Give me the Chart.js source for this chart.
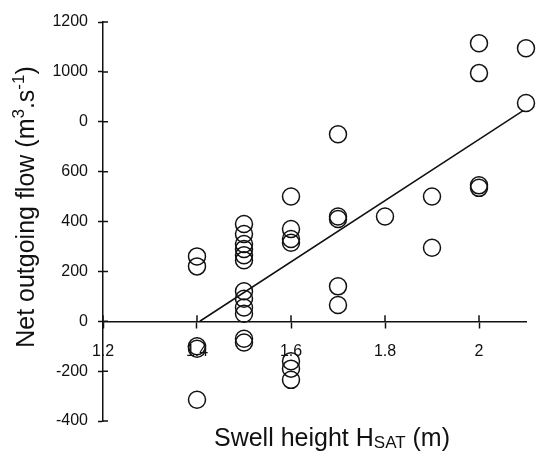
<!DOCTYPE html>
<html>
<head>
<meta charset="utf-8">
<script src="https://cdn.jsdelivr.net/npm/chart.js@4.4.1/dist/chart.umd.min.js"></script>
<style>
  html, body { margin: 0; padding: 0; background: #fff; }
  #wrap { width: 536px; height: 452px; }
</style>
</head>
<body>
<div id="wrap"><canvas id="plot_flow" width="536" height="452"></canvas></div>
<script>
// axis ticks as printed (note the 800 tick is labelled "0" in the original)
const xTicks = [1.2, 1.4, 1.6, 1.8, 2.0];
const xTickLabels = ["1.2", "1.4", "1.6", "1.8", "2"];
const yTicks = [-400, -200, 0, 200, 400, 600, 800, 1000, 1200];
const yTickLabels = ["-400", "-200", "0", "200", "400", "600", "0", "1000", "1200"];

// observations: swell height (m) vs net outgoing flow (m3/s)
const swellHeight = [
  1.4, 1.4, 1.4, 1.4, 1.4,
  1.5, 1.5, 1.5, 1.5, 1.5, 1.5, 1.5, 1.5, 1.5, 1.5, 1.5, 1.5,
  1.6, 1.6, 1.6, 1.6, 1.6, 1.6, 1.6,
  1.7, 1.7, 1.7, 1.7, 1.7,
  1.8,
  1.9, 1.9,
  2.0, 2.0, 2.0, 2.0,
  2.1, 2.1
];
const netFlow = [
  260, 220, -100, -110, -315,
  390, 350, 310, 290, 265, 245, 120, 90, 55, 30, -70, -85,
  500, 370, 330, 315, -160, -190, -235,
  750, 420, 410, 140, 65,
  420,
  500, 295,
  1115, 995, 545, 535,
  1095, 875
];

// regression line end points
const fitX = [1.406, 2.094];
const fitY = [0, 845];

const ink = "#111";
const FONT = "'Liberation Sans', Arial, Helvetica, sans-serif";

const points = swellHeight.map((x, i) => ({ x: x, y: netFlow[i] }));
const fitLine = fitX.map((x, i) => ({ x: x, y: fitY[i] }));

// inner half of the crossing tick marks + axis titles
const extras = {
  id: "extras",
  afterDraw(chart) {
    const ctx = chart.ctx;
    const xs = chart.scales.x, ys = chart.scales.y;
    const x0 = xs.getPixelForValue(1.2);
    const y0 = ys.getPixelForValue(0);
    ctx.save();
    ctx.strokeStyle = ink;
    ctx.lineWidth = 1.5;
    ctx.beginPath();
    xTicks.forEach(v => {
      const px = xs.getPixelForValue(v);
      ctx.moveTo(px, y0);
      ctx.lineTo(px, y0 - 6);
    });
    yTicks.forEach(v => {
      const py = ys.getPixelForValue(v);
      ctx.moveTo(x0, py);
      ctx.lineTo(x0 + 5, py);
    });
    ctx.stroke();

    ctx.fillStyle = ink;
    ctx.textBaseline = "alphabetic";
    ctx.textAlign = "left";

    // x title: Swell height H_SAT (m)
    const big = "25px " + FONT, small = "17px " + FONT;
    ctx.font = big;
    const wA = ctx.measureText("Swell height H").width;
    const wC = ctx.measureText(" (m)").width;
    ctx.font = small;
    const wB = ctx.measureText("SAT").width;
    let tx = 332 - (wA + wB + wC) / 2;
    const ty = 446;
    ctx.font = big;
    ctx.fillText("Swell height H", tx, ty);
    tx += wA;
    ctx.font = small;
    ctx.fillText("SAT", tx, ty + 2);
    tx += wB;
    ctx.font = big;
    ctx.fillText(" (m)", tx, ty);

    // y title: Net outgoing flow (m3.s-1)
    const parts = [
      ["Net outgoing flow (m", big, 0],
      ["3", small, -10],
      [".s", big, 0],
      ["-1", small, -10],
      [")", big, 0]
    ];
    let total = 0;
    parts.forEach(p => { ctx.font = p[1]; total += ctx.measureText(p[0]).width; });
    ctx.translate(34, 207);
    ctx.rotate(-Math.PI / 2);
    let cx = -total / 2;
    parts.forEach(p => {
      ctx.font = p[1];
      ctx.fillText(p[0], cx, p[2]);
      cx += ctx.measureText(p[0]).width;
    });
    ctx.restore();
  }
};

new Chart(document.getElementById("plot_flow"), {
  type: "scatter",
  data: {
    datasets: [
      {
        label: "Observations",
        data: points,
        pointStyle: "circle",
        pointRadius: 8.5,
        pointHoverRadius: 8.5,
        pointBorderWidth: 1.5,
        borderColor: ink,
        backgroundColor: "rgba(0,0,0,0)",
        clip: false,
      },
      {
        type: "line",
        label: "Fit",
        data: fitLine,
        borderColor: ink,
        borderWidth: 1.5,
        pointRadius: 0,
        fill: false,
        tension: 0,
        clip: false,
      },
    ],
  },
  options: {
    responsive: false,
    animation: false,
    devicePixelRatio: 1,
    layout: {
      padding: { left: 0, right: 10, top: 22, bottom: 31 },
    },
    plugins: {
      legend: { display: false },
      tooltip: { enabled: false },
    },
    scales: {
      x: {
        type: "linear",
        position: { y: 0 },
        min: 1.2,
        max: 2.1,
        afterBuildTicks: (scale) => {
          scale.ticks = xTicks.map(v => ({ value: v }));
        },
        ticks: {
          callback: (v) => xTickLabels[xTicks.indexOf(v)],
          color: ink,
          font: { family: FONT, size: 16 },
          padding: 15,
          maxRotation: 0,
          autoSkip: false,
        },
        grid: {
          drawOnChartArea: false,
          drawTicks: true,
          tickLength: 6,
          tickWidth: 1.5,
          tickColor: ink,
        },
        border: { display: true, color: ink, width: 1.5 },
      },
      y: {
        type: "linear",
        position: "left",
        min: -400,
        max: 1200,
        afterBuildTicks: (scale) => {
          scale.ticks = yTicks.map(v => ({ value: v }));
        },
        afterFit: (scale) => {
          scale.width = 103;
        },
        ticks: {
          callback: (v) => yTickLabels[yTicks.indexOf(v)],
          color: ink,
          font: { family: FONT, size: 16 },
          padding: 10,
          autoSkip: false,
        },
        grid: {
          drawOnChartArea: false,
          drawTicks: true,
          tickLength: 5,
          tickWidth: 1.5,
          tickColor: ink,
        },
        border: { display: true, color: ink, width: 1.5 },
      },
    },
  },
  plugins: [extras],
});
</script>
</body>
</html>
